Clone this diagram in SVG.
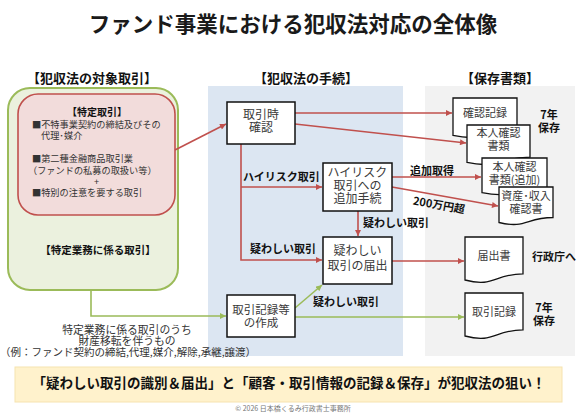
<svg xmlns="http://www.w3.org/2000/svg" width="586" height="418" viewBox="0 0 586 418">
<style>
text{font-family:"Noto Sans CJK JP","Noto Sans",sans-serif;}
.t{fill:#3a3a3a;font-size:12px;text-anchor:middle;}
.d{fill:#3a3a3a;font-size:11px;text-anchor:middle;}
.b{fill:#111;font-size:11px;font-weight:bold;}
.h{fill:#111;font-size:13px;font-weight:bold;text-anchor:middle;}
.box{fill:#fff;stroke:#111;stroke-width:1.5;}
.doc{fill:#fff;stroke:#111;stroke-width:1.3;}
.r{fill:none;stroke:#C0504D;stroke-width:1.6;}
.g{fill:none;stroke:#9BBB59;stroke-width:1.6;}
.s{fill:#333;font-size:9.2px;}
</style>
<defs>
<marker id="ar" viewBox="0 0 10 10" refX="10" refY="5" markerWidth="7" markerHeight="6" markerUnits="userSpaceOnUse" orient="auto"><path d="M0,0 L10,5 L0,10 z" fill="#C0504D"/></marker>
<marker id="ag" viewBox="0 0 10 10" refX="10" refY="5" markerWidth="7" markerHeight="6" markerUnits="userSpaceOnUse" orient="auto"><path d="M0,0 L10,5 L0,10 z" fill="#9BBB59"/></marker>
</defs>
<rect width="586" height="418" fill="#fff"/>
<text x="293" y="32" style="font-size:21.5px;font-weight:bold;fill:#1a1a1a;text-anchor:middle">ファンド事業における犯収法対応の全体像</text>

<text class="h" x="92" y="83">【犯収法の対象取引】</text>
<text class="h" x="306" y="83">【犯収法の手続】</text>
<text class="h" x="500" y="83">【保存書類】</text>

<rect x="208" y="86" width="195" height="270" fill="#DCE6F2"/>
<rect x="425" y="86" width="150" height="270" fill="#F2F2F2"/>

<g id="target">
<rect x="8" y="88" width="170" height="202" rx="22" fill="#EBF1DE" stroke="#9BBB59" stroke-width="2"/>
<text x="98" y="254" style="font-size:10.5px;font-weight:bold;fill:#111;text-anchor:middle">【特定業務に係る取引】</text>
</g>
<g id="specific">
<rect x="18" y="94" width="157" height="121" rx="20" fill="#F2DCDB" stroke="#C0504D" stroke-width="1.6"/>
<text x="97" y="116" style="font-size:10px;font-weight:bold;fill:#111;text-anchor:middle">【特定取引】</text>
<text class="s"><tspan x="32" y="128">■不特事業契約の締結及びその</tspan><tspan x="41" y="139">代理･媒介</tspan></text>
<text class="s"><tspan x="32" y="162">■第二種金融商品取引業</tspan><tspan x="28" y="174">（ファンドの私募の取扱い等）</tspan><tspan x="94" y="185">+</tspan><tspan x="32" y="196">■特別の注意を要する取引</tspan></text>
</g>
<g id="note">
<text style="font-size:10.8px;fill:#333;text-anchor:middle"><tspan x="127" y="334">特定業務に係る取引のうち</tspan><tspan x="127" y="345">財産移転を伴うもの</tspan><tspan x="128" y="356" style="font-size:10.5px">（例：ファンド契約の締結,代理,媒介,解除,承継,譲渡）</tspan></text>
</g>

<g id="connectors">
<path class="r" d="M175,150 L226,124" marker-end="url(#ar)"/>
<path class="r" d="M295,113 H452" marker-end="url(#ar)"/>
<path class="r" d="M295,124 L466,143" marker-end="url(#ar)"/>
<path class="r" d="M241,144 V260 H322" marker-end="url(#ar)"/>
<path class="r" d="M241,187 H322" marker-end="url(#ar)"/>
<path class="r" d="M392,177 H481" marker-end="url(#ar)"/>
<path class="r" d="M392,187 L498,206" marker-end="url(#ar)"/>
<path class="r" d="M358,211 V236" marker-end="url(#ar)"/>
<path class="r" d="M392,261 H464" marker-end="url(#ar)"/>
<path class="g" d="M91,290 V316 H226" marker-end="url(#ag)"/>
<path class="g" d="M295,308 L322,285" marker-end="url(#ag)"/>
<path class="g" d="M295,317 H464" marker-end="url(#ag)"/>
<text class="b" x="243" y="181">ハイリスク取引</text>
<text class="b" x="250" y="253">疑わしい取引</text>
<text class="b" x="363" y="227">疑わしい取引</text>
<text class="b" x="313" y="306">疑わしい取引</text>
<text class="b" x="410" y="175">追加取得</text>
<text class="b" x="439" y="209" text-anchor="middle" transform="rotate(10 439 205)">200万円超</text>
</g>

<g id="n-kakunin">
<rect class="box" x="227" y="102" width="68" height="42"/>
<text class="t"><tspan x="261" y="119">取引時</tspan><tspan x="261" y="132">確認</tspan></text>
</g>
<g id="n-highrisk">
<rect class="box" x="323" y="163" width="69" height="48"/>
<text class="t"><tspan x="357.5" y="177">ハイリスク</tspan><tspan x="357.5" y="190">取引への</tspan><tspan x="357.5" y="203">追加手続</tspan></text>
</g>
<g id="n-todokede">
<rect class="box" x="323" y="237" width="69" height="47"/>
<text class="t"><tspan x="357.5" y="255">疑わしい</tspan><tspan x="357.5" y="270">取引の届出</tspan></text>
</g>
<g id="n-kiroku">
<rect class="box" x="227" y="295" width="68" height="42"/>
<text class="t" style="font-size:11.5px"><tspan x="261" y="314">取引記録等</tspan><tspan x="261" y="327">の作成</tspan></text>
</g>

<g id="d-kakuninkiroku">
<path class="doc" d="M453,98 H517 V130.1 C485,130.1 485,142.3 453,135.4 Z"/>
<text class="d" x="485" y="117">確認記録</text>
</g>
<g id="d-honnin">
<path class="doc" d="M467,125 H530 V157.1 C498.5,157.1 498.5,169.3 467,162.4 Z"/>
<text class="d"><tspan x="498.5" y="137">本人確認</tspan><tspan x="498.5" y="150">書類</tspan></text>
</g>
<g id="d-honnin-add">
<path class="doc" d="M482,158 H547 V187.7 C514.5,187.7 514.5,199 482,192.6 Z"/>
<text class="d"><tspan x="514.5" y="171">本人確認</tspan><tspan x="514.5" y="184">書類(追加)</tspan></text>
</g>
<g id="d-shisan">
<path class="doc" d="M499,187 H553 V217.5 C526,217.5 526,229.1 499,222.5 Z"/>
<text class="d"><tspan x="526" y="200">資産･収入</tspan><tspan x="526" y="213">確認書</tspan></text>
</g>
<g id="d-todokedesho">
<path class="doc" d="M465,237 H523 V273.9 C494,273.9 494,287.9 465,280 Z"/>
<text class="d" x="494" y="260">届出書</text>
</g>
<g id="d-torihikikiroku">
<path class="doc" d="M465,293 H523 V329.9 C494,329.9 494,343.9 465,336 Z"/>
<text class="d" x="494" y="316">取引記録</text>
</g>
<g id="doc-labels">
<text class="b" text-anchor="middle"><tspan x="549" y="119">7年</tspan><tspan x="549" y="132">保存</tspan></text>
<text class="b" x="532" y="261">行政庁へ</text>
<text class="b" text-anchor="middle"><tspan x="544" y="312">7年</tspan><tspan x="544" y="325">保存</tspan></text>
</g>

<g id="banner">
<rect x="15" y="367" width="547" height="35" fill="#FFF2CC" stroke="#F6E3B0" stroke-width="1"/>
<text x="289" y="388" style="font-size:13.5px;font-weight:bold;fill:#111;text-anchor:middle">「疑わしい取引の識別＆届出」と「顧客・取引情報の記録＆保存」が犯収法の狙い！</text>
</g>
<text x="293" y="411" style="font-size:7px;fill:#777;text-anchor:middle">© 2026 日本橋くるみ行政書士事務所</text>
</svg>
